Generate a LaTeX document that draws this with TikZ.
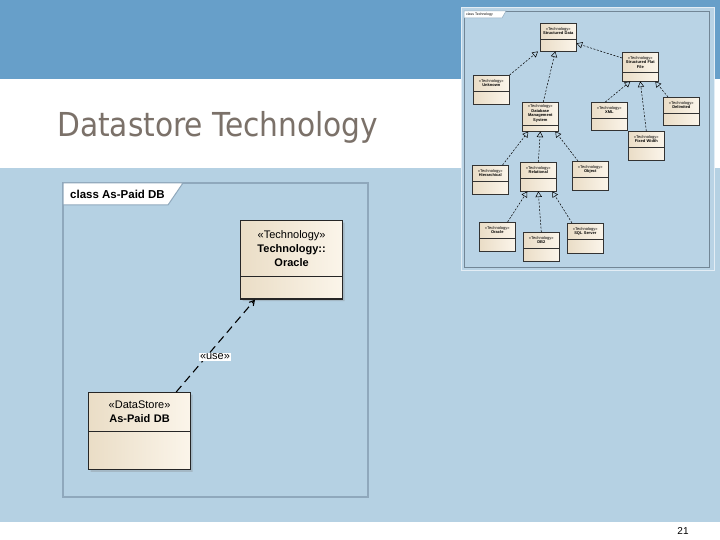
\documentclass[tikz,border=0pt]{standalone}
\usepackage{fontspec}
\setmainfont{Liberation Sans}
\newfontfamily\titlefont{DejaVu Sans Condensed}
\usetikzlibrary{positioning, arrows, shapes.multipart, shadows}

\definecolor{topblue}{HTML}{679FC9}
\definecolor{paleblue}{HTML}{B5D1E3}
\definecolor{insetblue}{HTML}{B9D3E5}
\definecolor{framegray}{HTML}{8FA8BC}
\definecolor{titlegray}{HTML}{7B7169}
\definecolor{boxleft}{HTML}{EADDC6}
\definecolor{boxright}{HTML}{FBF5EA}

\begin{document}
\begin{tikzpicture}[x=1pt, y=-1pt,
  umlclass/.style={rectangle split, rectangle split parts=2, draw=black!85, line width=1.2pt, left color=boxleft, right color=boxright, text width=92pt, inner xsep=5pt, inner ysep=8pt, align=center, font=\fontsize{11}{14}\selectfont, anchor=north west, drop shadow={shadow xshift=2pt, shadow yshift=-2pt, opacity=0.3}},
  miniclass/.style={rectangle split, rectangle split parts=2, draw=black!80, line width=0.6pt, left color=boxleft, right color=boxright, text width=33pt, inner xsep=1.5pt, inner ysep=3.8pt, align=center, font=\fontsize{4}{4.5}\selectfont, anchor=north west},
  dep/.style={dash pattern=on 8pt off 5pt, line width=1.1pt},
  gen/.style={dash pattern=on 2pt off 1.5pt, line width=0.5pt, -open triangle 60},
  frametab/.style={fill=white, draw=framegray, line width=1pt}]

\fill[white] (0,0) rectangle (720,540);
\fill[topblue] (0,0) rectangle (720,79);
\fill[paleblue] (0,168) rectangle (720,522);
\useasboundingbox (0,0) rectangle (720,540);

\node[anchor=base west, font=\titlefont\fontsize{33}{36}\selectfont, text=titlegray, inner sep=0pt] (title) at (57,137) {Datastore Technology};
\node[font=\fontsize{10}{11}\selectfont, inner sep=0pt] (pagenum) at (683,531) {21};

\draw[framegray, line width=1.5pt] (63,183) rectangle (368,497);
\draw[frametab] (63,183) -- (183,183) -- (168,205) -- (63,205) -- cycle;
\node[anchor=west, font=\bfseries\fontsize{11.5}{14}\selectfont, inner sep=0pt] (maintab) at (70,194) {class As-Paid DB};

\node[umlclass, inner ysep=9.5pt] (oracle) at (240,220) {«Technology»\\\textbf{Technology::}\\\textbf{Oracle}\nodepart{two}\rule{0pt}{2pt}};
\node[umlclass] (asdb) at (88,392) {«DataStore»\\\textbf{As-Paid DB}\nodepart{two}\rule{0pt}{21pt}};

\draw[dep, ->, >=angle 60] ([xshift=-15pt]asdb.north east) -- ([xshift=15pt]oracle.south west);
\node[fill=white, inner sep=1pt, font=\fontsize{11}{13}\selectfont] (uselbl) at (215,357) {«use»};

\draw[white!60!insetblue, fill=insetblue, line width=1pt] (461,8) rectangle (714,270);
\draw[framegray!80!black, line width=0.8pt] (464,11) rectangle (709,267);
\draw[frametab, line width=0.5pt] (464,11) -- (506,11) -- (502,18) -- (464,18) -- cycle;
\node[anchor=west, font=\fontsize{3.5}{4}\selectfont, inner sep=0pt] (insettab) at (466,14.5) {class Technology};

\node[miniclass] (sdata) at (540,23) {«Technology»\\\textbf{Structured Data}\nodepart{two}\rule{0pt}{4pt}};
\node[miniclass] (sff) at (622,52) {«Technology»\\\textbf{Structured Flat}\\\textbf{File}\nodepart{two}\rule{0pt}{0.5pt}};
\node[miniclass] (unknown) at (473,75) {«Technology»\\\textbf{Unknown}\nodepart{two}\rule{0pt}{5pt}};
\node[miniclass, inner ysep=2.5pt] (dbms) at (522,102) {«Technology»\\\textbf{Database}\\\textbf{Management}\\\textbf{System}\nodepart{two}\rule{0pt}{0.5pt}};
\node[miniclass] (xml) at (591,102) {«Technology»\\\textbf{XML}\nodepart{two}\rule{0pt}{4pt}};
\node[miniclass] (delim) at (663,97) {«Technology»\\\textbf{Delimited}\nodepart{two}\rule{0pt}{4pt}};
\node[miniclass] (fixed) at (628,131) {«Technology»\\\textbf{Fixed Width}\nodepart{two}\rule{0pt}{5pt}};
\node[miniclass] (hier) at (472,165) {«Technology»\\\textbf{Hierarchical}\nodepart{two}\rule{0pt}{5pt}};
\node[miniclass] (rel) at (520,162) {«Technology»\\\textbf{Relational}\nodepart{two}\rule{0pt}{5pt}};
\node[miniclass] (object) at (572,161) {«Technology»\\\textbf{Object}\nodepart{two}\rule{0pt}{4pt}};
\node[miniclass] (oracletwo) at (479,222) {«Technology»\\\textbf{Oracle}\nodepart{two}\rule{0pt}{5pt}};
\node[miniclass] (dbtwo) at (523,232) {«Technology»\\\textbf{DB2}\nodepart{two}\rule{0pt}{5pt}};
\node[miniclass] (sqlserver) at (567,223) {«Technology»\\\textbf{SQL Server}\nodepart{two}\rule{0pt}{5pt}};

\draw[gen] (unknown.north east) -- ([xshift=-2pt]sdata.south west);
\draw[gen] ([xshift=3pt]dbms.north) -- ([xshift=-3pt]sdata.south);
\draw[gen] ([yshift=-6pt]sff.north west) -- ([yshift=8pt]sdata.south east);
\draw[gen] ([xshift=-4pt]xml.north) -- ([xshift=-10pt]sff.south);
\draw[gen] (fixed.north) -- (sff.south);
\draw[gen] ([xshift=5pt]delim.north west) -- ([xshift=15pt]sff.south);
\draw[gen] ([xshift=-6pt]hier.north east) -- ([xshift=-12pt]dbms.south);
\draw[gen] (rel.north) -- (dbms.south);
\draw[gen] ([xshift=6pt]object.north west) -- ([xshift=15pt]dbms.south);
\draw[gen] ([xshift=-8pt]oracletwo.north east) -- ([xshift=-11pt]rel.south);
\draw[gen] (dbtwo.north) -- (rel.south);
\draw[gen] ([xshift=5pt]sqlserver.north west) -- ([xshift=14pt]rel.south);
\end{tikzpicture}
\end{document}
